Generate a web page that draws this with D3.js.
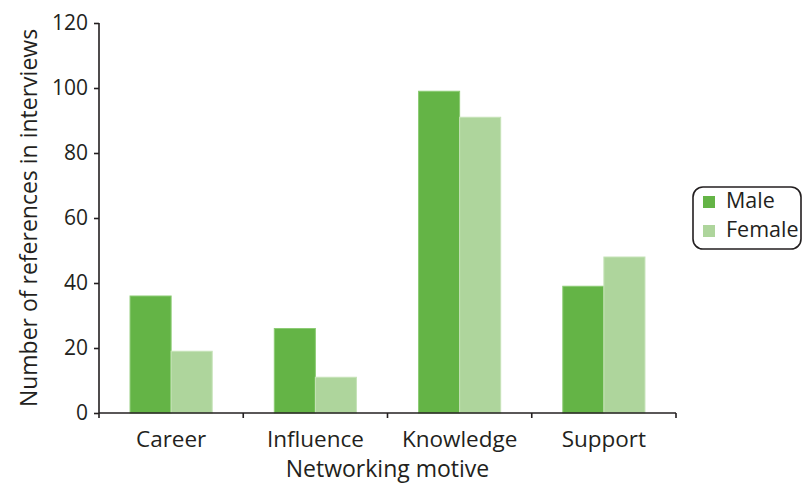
<!DOCTYPE html>
<html>
<head>
<meta charset="utf-8">
<script src="https://cdn.jsdelivr.net/npm/d3@7"></script>
<style>
  html, body { margin: 0; padding: 0; background: #fff; }
  svg { display: block; }
  text { font-family: "Open Sans", "Noto Sans", sans-serif; fill: #231f20; }
</style>
</head>
<body>
<svg id="chart" width="802" height="484"></svg>
<script>
const categories = ["Career", "Influence", "Knowledge", "Support"];
const seriesNames = ["Male", "Female"];
const maleValues = [36, 26, 99, 39];
const femaleValues = [19, 11, 91, 48];
const yTicks = [0, 20, 40, 60, 80, 100, 120];
const colors = ["#64b446", "#aed59c"];
const strokeColors = ["#8ccb74", "#c6e3b8"];

const svg = d3.select("#chart");
const margin = { left: 99, right: 126, top: 23, bottom: 71 };
const W = 802, H = 484;
const x0 = margin.left, x1 = W - margin.right;
const yBottom = H - margin.bottom, yTop = margin.top;

const x = d3.scaleBand().domain(categories).range([x0, x1]).paddingInner(0).paddingOuter(0);
const xs = d3.scaleBand().domain(seriesNames).range([0, x.bandwidth()]).paddingInner(0).paddingOuter(0.756);
const y = d3.scaleLinear().domain([0, 120]).range([yBottom, yTop]);

const data = categories.map((c, i) => ({ cat: c, vals: [maleValues[i], femaleValues[i]] }));

const groups = svg.append("g").selectAll("g").data(data).join("g")
  .attr("transform", d => `translate(${x(d.cat)},0)`);
groups.selectAll("rect").data(d => d.vals.map((v, j) => ({ name: seriesNames[j], v, j })))
  .join("rect")
  .attr("x", d => xs(d.name))
  .attr("width", xs.bandwidth())
  .attr("y", d => y(d.v))
  .attr("height", d => y(0) - y(d.v))
  .attr("fill", d => colors[d.j])
  .attr("stroke", d => strokeColors[d.j])
  .attr("stroke-width", 1);

// Y axis
const yAxis = d3.axisLeft(y).tickValues(yTicks).tickSize(5).tickPadding(6);
const gy = svg.append("g").attr("transform", `translate(${x0},0)`).call(yAxis);
gy.select(".domain").attr("stroke", "#231f20").attr("stroke-width", 1.6).attr("d", `M0,${yTop}V${yBottom}`);
gy.selectAll(".tick line").attr("stroke", "#231f20").attr("stroke-width", 1.6);
gy.selectAll(".tick text").style("font-size", "21px").attr("fill", "#231f20").attr("font-family", null);

// X axis: ticks at band boundaries
const gx = svg.append("g").attr("transform", `translate(0,${yBottom})`);
gx.append("line").attr("x1", x0).attr("x2", x1).attr("y1", 0).attr("y2", 0)
  .attr("stroke", "#231f20").attr("stroke-width", 1.6);
const boundaries = categories.map(c => x(c)).concat([x(categories[categories.length - 1]) + x.bandwidth()]);
gx.selectAll("line.b").data(boundaries).join("line").attr("class", "b")
  .attr("x1", d => d).attr("x2", d => d).attr("y1", 0).attr("y2", 5)
  .attr("stroke", "#231f20").attr("stroke-width", 1.6);
gx.selectAll("text.c").data(categories).join("text").attr("class", "c")
  .attr("x", d => x(d) + x.bandwidth() / 2)
  .attr("y", 34)
  .attr("text-anchor", "middle")
  .style("font-size", "22.5px")
  .text(d => d);

// Axis titles
svg.append("text")
  .attr("x", (x0 + x1) / 2).attr("y", 477)
  .attr("text-anchor", "middle").style("font-size", "23px")
  .text("Networking motive");
svg.append("text")
  .attr("transform", `translate(37,${(yTop + yBottom) / 2}) rotate(-90)`)
  .attr("text-anchor", "middle").style("font-size", "23px")
  .text("Number of references in interviews");

// Legend
const lg = svg.append("g").attr("transform", "translate(693,187)");
lg.append("rect").attr("x", 0).attr("y", 0).attr("width", 108).attr("height", 62)
  .attr("rx", 10).attr("ry", 10).attr("fill", "#fff").attr("stroke", "#231f20").attr("stroke-width", 1.6);
seriesNames.forEach((n, i) => {
  lg.append("rect").attr("x", 10).attr("y", 9 + i * 29).attr("width", 12).attr("height", 12).attr("fill", colors[i]);
  lg.append("text").attr("x", 33).attr("y", 21 + i * 29).style("font-size", "21.5px").text(n);
});
</script>
</body>
</html>
